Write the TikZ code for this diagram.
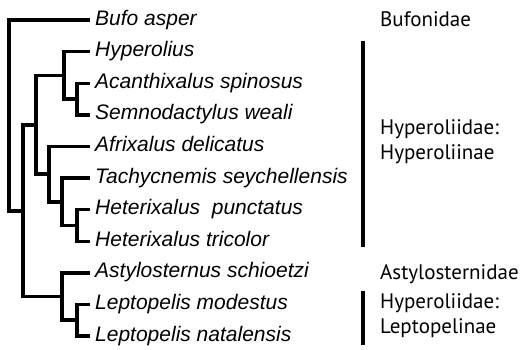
\documentclass[tikz,border=0pt]{standalone}
\usepackage{fontspec}
\setmainfont{Liberation Sans}
\newfontfamily\famfont{PT Sans}

\tikzset{
    branch/.style={line width=3.4pt},
    cladebar/.style={line width=3.4pt},
    taxon/.style={anchor=west, inner xsep=5pt, inner ysep=0pt,
        font=\fontsize{21}{25}\selectfont\itshape,
        text height=15pt, text depth=5pt},
    clade/.style={anchor=west, align=left, inner sep=0pt,
        font=\famfont\fontsize{21}{25}\selectfont}
}

\begin{document}
\begin{tikzpicture}[x=1pt,y=-1pt]
    \useasboundingbox (0,0) rectangle (521,349);

    % Taxa (tips end at x=90)
    \foreach \name/\txt [count=\i from 0] in {
        bufo/Bufo asper,
        hyp/Hyperolius,
        acanth/Acanthixalus spinosus,
        semno/Semnodactylus weali,
        afrix/Afrixalus delicatus,
        tachy/Tachycnemis seychellensis,
        hetp/Heterixalus\ \ punctatus,
        hett/Heterixalus tricolor,
        asty/Astylosternus schioetzi,
        lepm/Leptopelis modestus,
        lepn/Leptopelis natalensis}{
        \node[taxon] (\name) at (90,{20+31.6*\i}) {\txt};
    }

    % Internal nodes
    \coordinate (as)   at (77,99);
    \coordinate (hyc)  at (64,75.5);
    \coordinate (het)  at (77,225.5);
    \coordinate (tac)  at (62,202);
    \coordinate (afr)  at (49,174);
    \coordinate (hyn)  at (36,125);
    \coordinate (lep)  at (77,320);
    \coordinate (ast)  at (62,296.5);
    \coordinate (ing)  at (23,211);
    \coordinate (root) at (9,115.5);

    % Branches
    \foreach \p/\c in {
        as/acanth.west, as/semno.west,
        hyc/hyp.west, hyc/as,
        het/hetp.west, het/hett.west,
        tac/tachy.west, tac/het,
        afr/afrix.west, afr/tac,
        hyn/hyc, hyn/afr,
        lep/lepm.west, lep/lepn.west,
        ast/asty.west, ast/lep,
        ing/hyn, ing/ast,
        root/bufo.west, root/ing}{
        \draw[branch] (\p) |- (\c);
    }

    % Clade bars
    \coordinate (hbarT) at (363,41);
    \coordinate (hbarB) at (363,247);
    \coordinate (lbarT) at (363,291);
    \coordinate (lbarB) at (363,345);
    \draw[cladebar] (hbarT) -- (hbarB);
    \draw[cladebar] (lbarT) -- (lbarB);

    % Clade labels
    \node[clade] (bufonidae) at (380,19) {Bufonidae};
    \node[clade] (hyperoliinae) at (380,142) {Hyperoliidae:\\Hyperoliinae};
    \node[clade] (astylosternidae) at (380,274) {Astylosternidae};
    \node[clade] (leptopelinae) at (380,316) {Hyperoliidae:\\Leptopelinae};
\end{tikzpicture}
\end{document}
